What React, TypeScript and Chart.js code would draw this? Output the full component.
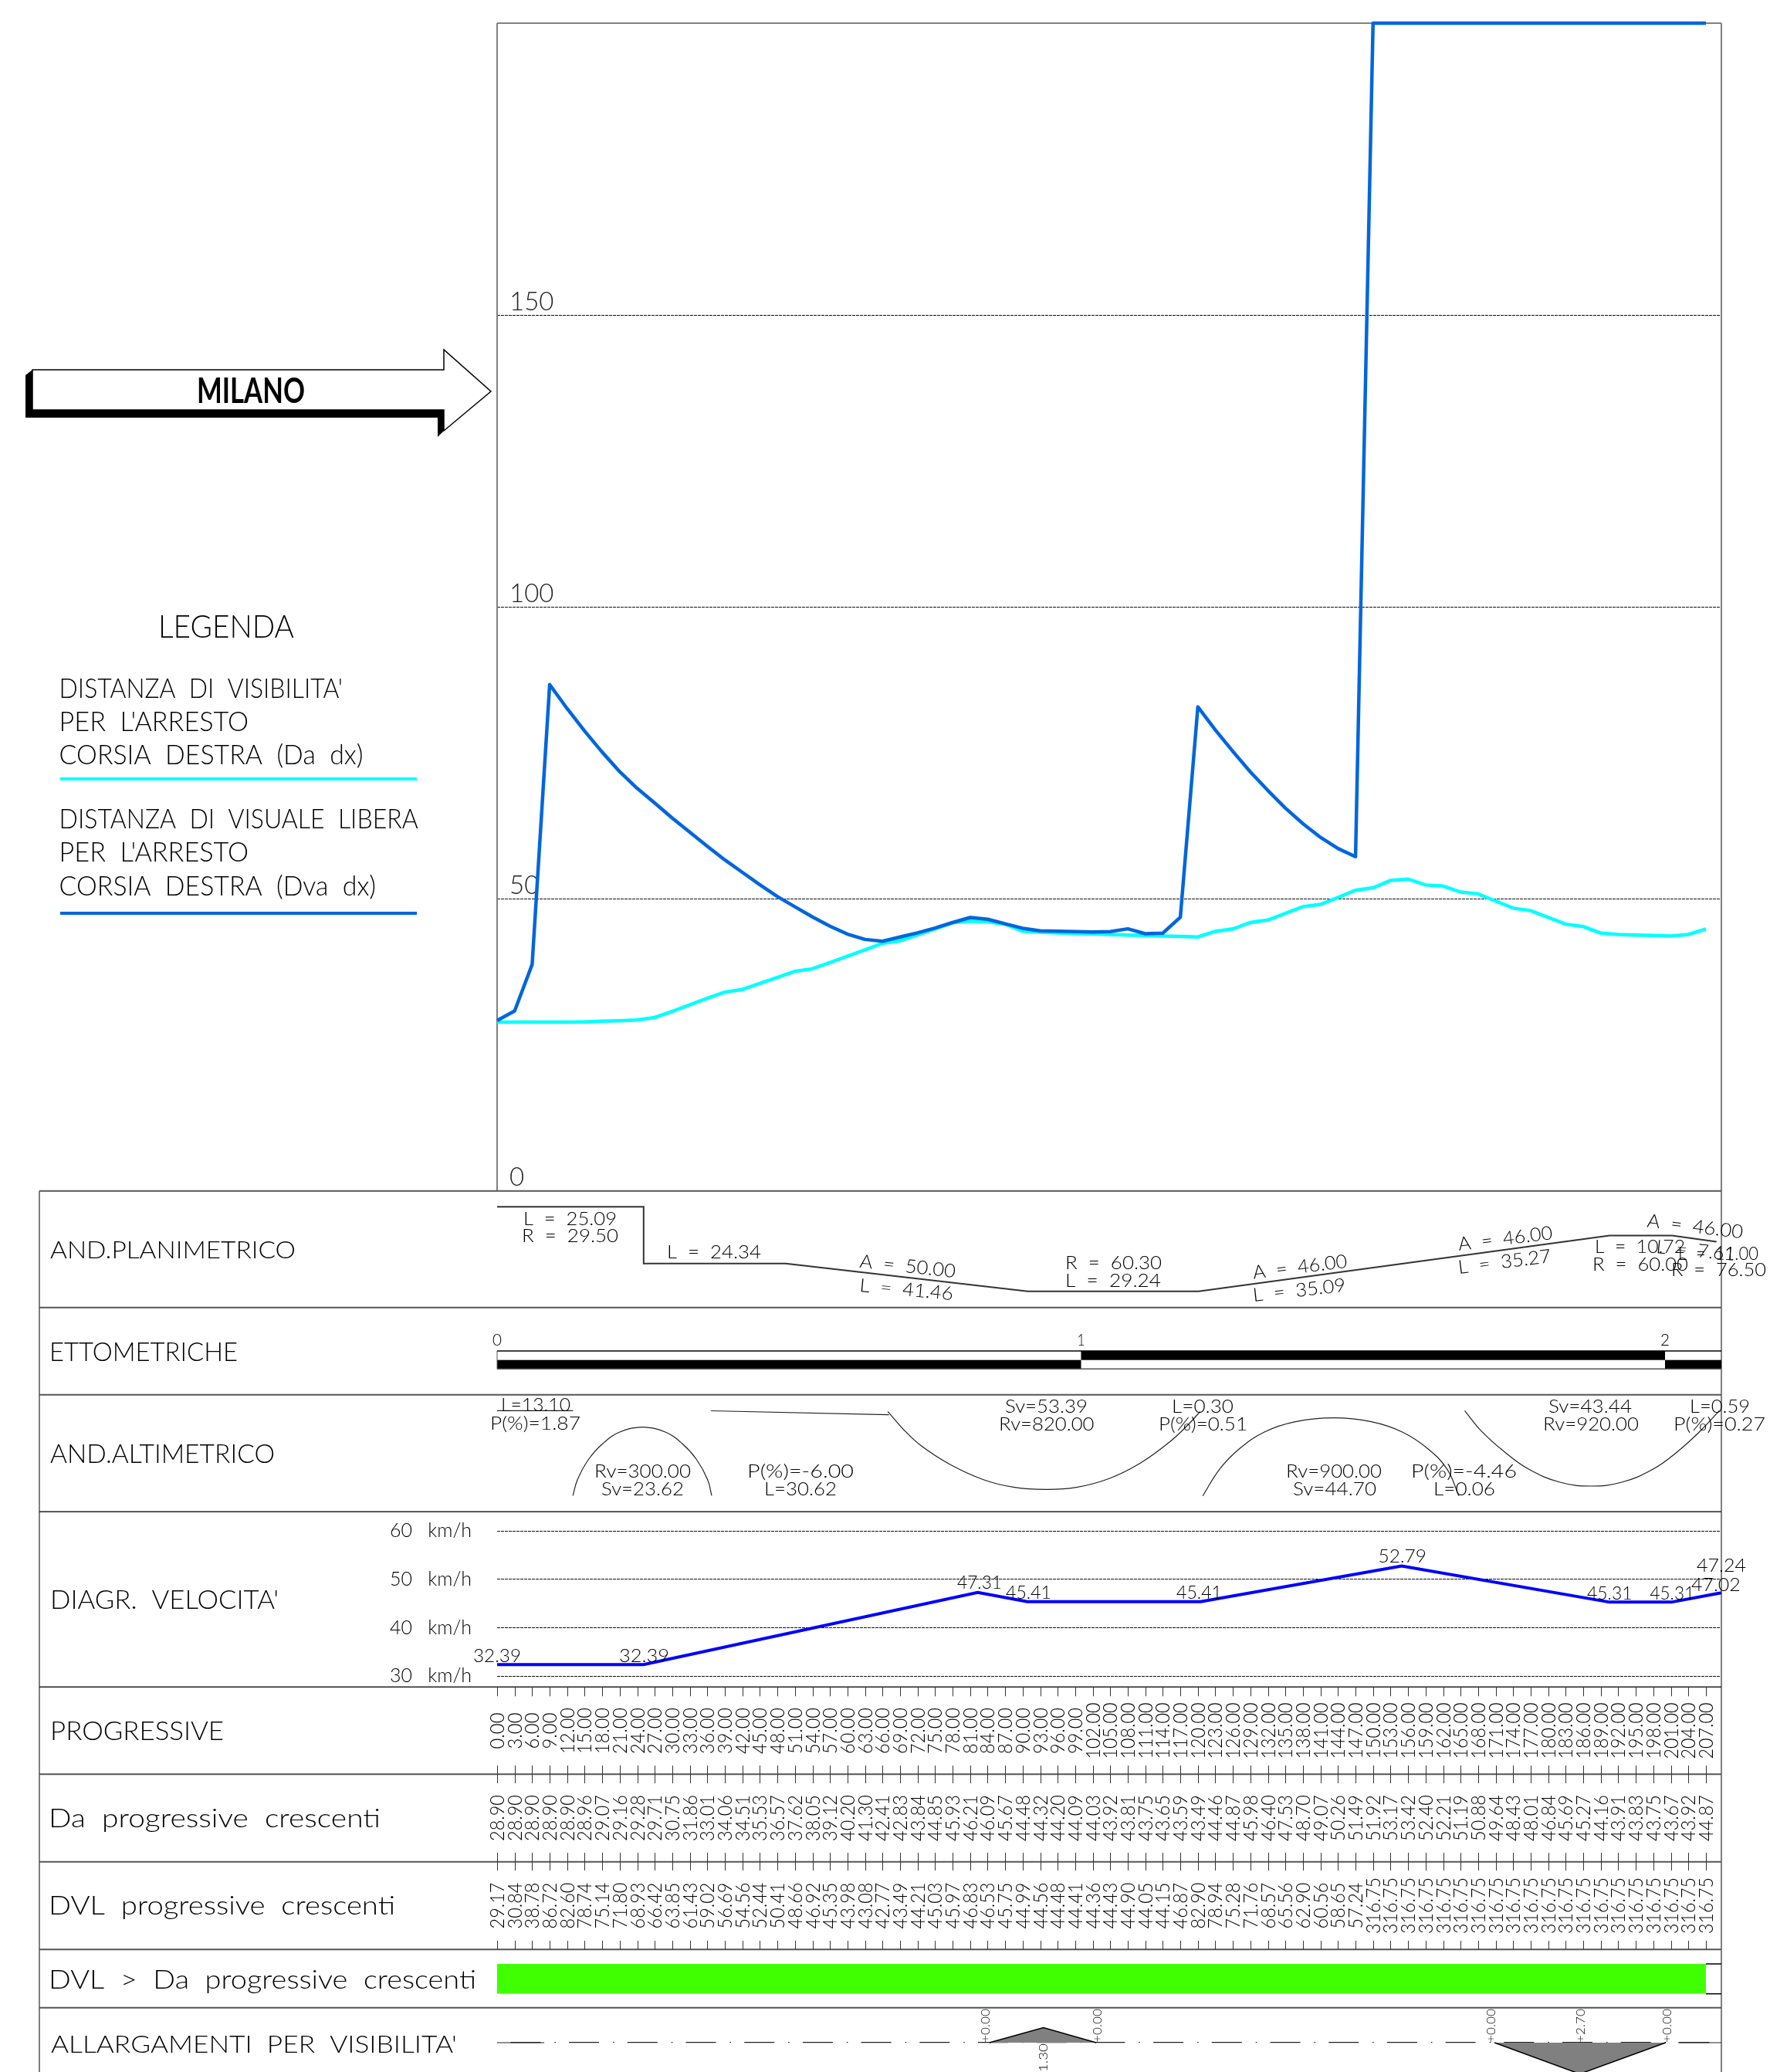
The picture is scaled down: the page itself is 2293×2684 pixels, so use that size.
import React, { useEffect, useRef } from "react";
import { Chart, registerables } from "chart.js";

Chart.register(...registerables);

/* ---------- data ---------- */
const progressive = [0,3,6,9,12,15,18,21,24,27,30,33,36,39,42,45,48,51,54,57,60,63,66,69,72,75,78,81,84,87,90,93,96,99,102,105,108,111,114,117,120,123,126,129,132,135,138,141,144,147,150,153,156,159,162,165,168,171,174,177,180,183,186,189,192,195,198,201,204,207];
const da = [28.90,28.90,28.90,28.90,28.90,28.96,29.07,29.16,29.28,29.71,30.75,31.86,33.01,34.06,34.51,35.53,36.57,37.62,38.05,39.12,40.20,41.30,42.41,42.83,43.84,44.85,45.93,46.21,46.09,45.67,44.48,44.32,44.20,44.09,44.03,43.92,43.81,43.75,43.65,43.59,43.49,44.46,44.87,45.98,46.40,47.53,48.70,49.07,50.26,51.49,51.92,53.17,53.42,52.40,52.21,51.19,50.88,49.64,48.43,48.01,46.84,45.69,45.27,44.16,43.91,43.83,43.75,43.67,43.92,44.87];
const dvl = [29.17,30.84,38.78,86.72,82.60,78.74,75.14,71.80,68.93,66.42,63.85,61.43,59.02,56.69,54.56,52.44,50.41,48.66,46.92,45.35,43.98,43.08,42.77,43.49,44.21,45.03,45.97,46.83,46.53,45.75,44.99,44.56,44.48,44.41,44.36,44.43,44.90,44.05,44.15,46.87,82.90,78.94,75.28,71.76,68.57,65.56,62.90,60.56,58.65,57.24,316.75,316.75,316.75,316.75,316.75,316.75,316.75,316.75,316.75,316.75,316.75,316.75,316.75,316.75,316.75,316.75,316.75,316.75,316.75,316.75];
const Y_LIMIT = 200;

const velStations = [0,25.09,82.3,90.8,120.5,154.9,190.5,201.1,209.65];
const velValues = [32.39,32.39,47.31,45.41,45.41,52.79,45.31,45.31,47.24];

const planStations = [0,25.09,25.09,49.43,90.89,120.13,190.49,201.21,208.82];
const planCurvature = [0.0339,0.0339,0,0,-0.01658,-0.01658,0.01667,0.01667,0.01307];

const altStations1 = [0,13];
const altElev1 = [131,131];
const altStations2 = [12.98,13.76,15.7,18.1,21.0,24.9,28.8,31.7,34.1,36.05,36.74];
const altElev2 = [21,41.6,68.3,88.3,103.3,109.6,103.3,88.3,68.3,41.6,21];
const altStations3 = [36.6,67.1];
const altElev3 = [130.8,125.7];
const altStations4 = [66.9,69.8,72.7,77.5,83.3,88.6,93.9,99.2,104.9,110.2,115.1,118.4,120.4];
const altElev4 = [130,105,85,61.6,41.6,31.6,29,31.6,43.3,63.3,90,113.3,130];
const altStations5 = [120.85,123.7,127.1,131.4,136.7,143.3,149.7,155.0,159.4,162.7,164.7];
const altElev5 = [20.6,55,81.6,103.3,116.6,121.6,116.6,103.3,81.6,55,20.6];
const altStations6 = [165.7,168.5,172.4,176.7,182,187.3,192.6,197.9,202.2,206.1,209.3];
const altElev6 = [131,105,78.3,55,38.3,33.3,38.3,55,78.3,105,131];

const wideStations1 = [84.3,93.55,102.6];
const wideValues1 = [0,-1.30,0];
const wideStations2 = [170.8,185.4,200.1];
const wideValues2 = [0,2.70,0];

const ettoStations = [0,100,200];
const ettoLabels = ["0","1","2"];

/* ---------- layout of the sheet (pixels) ---------- */
const W = 2293, H = 2684;
const PLOT_L = 644, PLOT_R = 2230, PLOT_T = 30;
const ROWS = [1542.7,1693.7,1806.7,1958.3,2185.3,2298.3,2411.7,2525.3,2600.7];
const FONT = "Lato";
const CYAN = "#00ffff", BLUE = "#0066dd", VEL = "#0000ff", GREEN = "#40ff00", GREY = "#808080";

type T = [string, number, number, number, number, number?];
// text, x0, x1, baseline, cap height, baseline at the far end (slanted text)
const TEXTS: T[] = [
  ["AND.PLANIMETRICO",65,383,1630,23],
  ["ETTOMETRICHE",64,308,1763,24],
  ["AND.ALTIMETRICO",65,356,1895,24],
  ["DIAGR.  VELOCITA'",65,361,2084,24],
  ["PROGRESSIVE",65,290,2254,24],
  ["Da  progressive  crescenti",63,493,2367,24],
  ["DVL  progressive  crescenti",63,512,2480,24],
  ["DVL  >  Da  progressive  crescenti",63,617,2576,24],
  ["ALLARGAMENTI  PER  VISIBILITA'",66,592,2659,23],
  ["L  =  25.09",678,799,1586.7,17.5],
  ["R  =  29.50",676,801,1609,17.5],
  ["L  =  24.34",864,986,1630,17.5],
  ["A  =  50.00",1113,1237,1641.7,17.5,1655],
  ["L  =  41.46",1113,1234,1673,17.5,1684],
  ["R  =  60.30",1380,1505,1644.3,17.5],
  ["L  =  29.24",1380,1504,1666.7,17.5],
  ["A  =  46.00",1624,1746,1656.7,17.5,1641.7],
  ["L  =  35.09",1624,1744,1686,17.5,1672.7],
  ["A  =  46.00",1890,2012,1620,17.5,1605],
  ["L  =  35.27",1890,2010,1650,17.5,1635],
  ["A  =  46.00",2133,2257,1589.3,17.5,1604.3],
  ["L  =  10.72",2066,2183,1623.3,17.5],
  ["R  =  60.00",2063,2187,1646,17.5],
  ["L  =  7.61",2145,2247,1623,17.5,1633],
  ["L  =  11.00",2174,2278,1631.7,17.5],
  ["R  =  76.50",2165,2288,1653,17.5],
  ["L=13.10",649,739,1828,16.5],
  ["P(%)=1.87",635,752,1852,16.5],
  ["Rv=300.00",770,895,1914,16.5],
  ["Sv=23.62",779,886,1936.7,16.5],
  ["P(%)=-6.00",968,1106,1914,16.5],
  ["L=30.62",990,1084,1936.7,16.5],
  ["Sv=53.39",1302,1409,1830,16.5],
  ["Rv=820.00",1294,1417.5,1852.7,16.5],
  ["L=0.30",1518,1598,1830,16.5],
  ["P(%)=0.51",1501,1616,1852.7,16.5],
  ["Rv=900.00",1666,1790,1914,16.5],
  ["Sv=44.70",1675,1783,1936.7,16.5],
  ["P(%)=-4.46",1828,1965,1914,16.5],
  ["L=0.06",1857,1937,1936.7,16.5],
  ["Sv=43.44",2006,2114,1830,16.5],
  ["Rv=920.00",1999,2123,1852.7,16.5],
  ["L=0.59",2189,2267,1830,16.5],
  ["P(%)=0.27",2168,2287,1852.7,16.5],
  ["32.39",613,675,2152.7,17],
  ["32.39",802,867,2152.7,17],
  ["47.31",1240,1298,2058,17],
  ["45.41",1303,1362,2070.7,17],
  ["45.41",1524,1583,2070.7,17],
  ["52.79",1785.5,1848,2024.3,17],
  ["45.31",2056,2114.5,2071.7,17],
  ["45.31",2137.5,2195,2071.7,17],
  ["47.24",2198,2262,2036,17],
  ["47.02",2191,2254.7,2061,17],
  ["LEGENDA",205,381,825.6,30],
  ["DISTANZA  DI  VISIBILITA'",76.6,444,903.7,25],
  ["PER  L'ARRESTO",76.6,322,947,25],
  ["CORSIA  DESTRA  (Da  dx)",76.6,470.5,990,25],
  ["DISTANZA  DI  VISUALE  LIBERA",76.6,541.7,1073,25],
  ["PER  L'ARRESTO",76.6,322,1116.4,25],
  ["CORSIA  DESTRA  (Dva  dx)",76.6,487,1160,25],
];

function text(ctx: CanvasRenderingContext2D, s: string, x0: number, x1: number, base: number, cap: number, base1?: number, weight = 300) {
  const b1 = base1 === undefined ? base : base1;
  const len = Math.hypot(x1 - x0, b1 - base);
  ctx.save();
  ctx.font = `${weight} ${cap / 0.72}px ${FONT}`;
  ctx.fillStyle = "#000";
  ctx.textAlign = "left";
  ctx.textBaseline = "alphabetic";
  const m = ctx.measureText(s).width;
  ctx.translate(x0, base);
  ctx.rotate(Math.atan2(b1 - base, x1 - x0));
  ctx.scale(len / m, 1);
  ctx.fillText(s, 0, 0);
  ctx.restore();
}

function upText(ctx: CanvasRenderingContext2D, s: string, x: number, yStart: number, len: number, cap: number) {
  ctx.save();
  ctx.font = `300 ${cap / 0.72}px ${FONT}`;
  ctx.fillStyle = "#000";
  ctx.textAlign = "left";
  ctx.textBaseline = "alphabetic";
  const m = ctx.measureText(s).width;
  ctx.translate(x + cap / 2, yStart);
  ctx.rotate(-Math.PI / 2);
  ctx.scale(len / m, 1);
  ctx.fillText(s, 0, 0);
  ctx.restore();
}

function line(ctx: CanvasRenderingContext2D, x0: number, y0: number, x1: number, y1: number, color: string, w: number) {
  ctx.strokeStyle = color;
  ctx.lineWidth = w;
  ctx.setLineDash([]);
  ctx.beginPath();
  ctx.moveTo(x0, y0);
  ctx.lineTo(x1, y1);
  ctx.stroke();
}

function poly(ctx: CanvasRenderingContext2D, pts: number[][]) {
  ctx.beginPath();
  pts.forEach((p, i) => (i ? ctx.lineTo(p[0], p[1]) : ctx.moveTo(p[0], p[1])));
  ctx.closePath();
}

const sheetPlugin = {
  id: "sheet",
  beforeDatasetsDraw(chart: any) {
    const ctx: CanvasRenderingContext2D = chart.ctx;
    const x = chart.scales.x;
    const zeroWide = chart.scales.yWide.getPixelForValue(0);
    ctx.save();
    // frames
    line(ctx, PLOT_L, PLOT_T, PLOT_R, PLOT_T, GREY, 2);
    line(ctx, PLOT_L, PLOT_T, PLOT_L, ROWS[0], GREY, 2);
    line(ctx, PLOT_R, PLOT_T, PLOT_R, H, GREY, 2);
    line(ctx, 51, ROWS[0], 51, H, GREY, 2);
    ROWS.forEach((y, i) => line(ctx, 51, y, PLOT_R, y, i === 3 || i === 4 ? "#222" : "#555", i === 3 || i === 4 ? 1.5 : 2));

    // long end pieces of the dash-dot centre line
    line(ctx, PLOT_L, zeroWide, 705, zeroWide, "#222", 1.2);
    line(ctx, 2174, zeroWide, PLOT_R, zeroWide, "#222", 1.2);

    // ettometriche band
    const yA = 1750, yB = 1761.7, yC = 1773.3;
    const bands = [...ettoStations.map((s) => x.getPixelForValue(s)), PLOT_R];
    bands.slice(0, -1).forEach((px, i) => {
      ctx.fillStyle = "#000";
      if (i % 2 === 0) ctx.fillRect(px, yB, bands[i + 1] - px, yC - yB);
      else ctx.fillRect(px, yA, bands[i + 1] - px, yB - yA);
    });
    line(ctx, PLOT_L, yA, PLOT_R, yA, "#000", 1.5);
    line(ctx, PLOT_L, yC, PLOT_R, yC, "#555", 1.5);
    line(ctx, PLOT_L, yA, PLOT_L, yC, "#555", 1);
    ettoStations.forEach((s, i) => {
      const px = x.getPixelForValue(s);
      text(ctx, ettoLabels[i], px - (i === 1 ? 5 : 6), px + (i === 1 ? 5 : 6), 1743, 15);
    });

    // station ticks
    progressive.forEach((s) => {
      const px = Math.round(x.getPixelForValue(s)) + 0.5;
      line(ctx, px, ROWS[4], px, ROWS[4] + 12, "#333", 1);
      line(ctx, px, 2287, px, 2310, "#333", 1);
      line(ctx, px, 2400, px, 2423, "#333", 1);
      line(ctx, px, 2514, px, ROWS[7], "#333", 1);
    });

    // box closing the DVL > Da band
    const endBar = x.getPixelForValue(207);
    line(ctx, endBar, 2544, PLOT_R, 2544, "#000", 1.5);
    line(ctx, endBar, 2582.7, PLOT_R, 2582.7, "#000", 1.5);

    // MILANO arrow
    ctx.fillStyle = "#000";
    poly(ctx, [[33,486],[42,479],[42,531],[575,531],[575,558],[567,566],[567,541],[33,541]]);
    ctx.fill();
    ctx.fillStyle = "#fff";
    ctx.strokeStyle = "#000";
    ctx.lineWidth = 1.5;
    poly(ctx, [[42,479],[575,479],[575,453],[636,507],[575,558],[575,531],[42,531]]);
    ctx.fill();
    ctx.stroke();

    // legend swatches
    line(ctx, 78, 1009, 540, 1009, CYAN, 4);
    line(ctx, 78, 1183, 540, 1183, BLUE, 4);
    ctx.restore();
  },
  afterDatasetsDraw(chart: any) {
    const ctx: CanvasRenderingContext2D = chart.ctx;
    const x = chart.scales.x;
    const len = (s: string) => 13 * s.length - 5;
    progressive.forEach((s, i) => {
      const px = x.getPixelForValue(s);
      const a = s.toFixed(2), b = da[i].toFixed(2), c = dvl[i].toFixed(2);
      upText(ctx, a, px, 2242 + len(a) / 2, len(a), 18);
      upText(ctx, b, px, 2355 + len(b) / 2, len(b), 18);
      upText(ctx, c, px, 2468.5 + len(c) / 2, len(c), 18);
    });
    TEXTS.forEach(([s, a, b, c, d, e]) => text(ctx, s, a, b, c, d, e));
    text(ctx, "MILANO", 255, 395, 522, 33, undefined, 700);
    // widening labels
    wideStations1.forEach((s, i) => {
      const v = wideValues1[i];
      const px = i === 1 ? x.getPixelForValue(s) : x.getPixelForValue(s) + (i === 0 ? -5 : 1);
      upText(ctx, (v < 0 ? "-" : "+") + Math.abs(v).toFixed(2), px, v < 0 ? 2691 : 2646, 44, 11);
    });
    wideStations2.forEach((s, i) => {
      const px = x.getPixelForValue(s) + (i === 0 ? -5 : i === 2 ? 2 : 1);
      upText(ctx, "+" + wideValues2[i].toFixed(2), px, 2646, 44, 11);
    });
  },
};

const xy = (xs: number[], ys: number[]) => xs.map((v, i) => ({ x: v, y: ys[i] }));
const thin = (xs: number[], ys: number[], tension = 0.4) => ({
  data: xy(xs, ys), yAxisID: "yAlt", borderColor: "#222", borderWidth: 1.2, pointRadius: 0, tension,
});
const hiddenAxis = (weight: number, stackWeight: number) => ({
  type: "linear", axis: "y", position: "left", display: false, stack: "sheet", stackWeight, weight, min: 0, max: 1,
});
const flatFit = (s: any) => {
  s.width = 0;
  s.paddingTop = 0; s.paddingBottom = 0; s.paddingLeft = 0; s.paddingRight = 0;
};

export default function App() {
  const ref = useRef<HTMLCanvasElement>(null);
  useEffect(() => {
    const chart = new Chart(ref.current as HTMLCanvasElement, {
      type: "line",
      data: {
        datasets: [
          { label: "Dva dx", data: xy(progressive, dvl.map((v) => Math.min(v, Y_LIMIT))), yAxisID: "y", borderColor: BLUE, borderWidth: 4.5, pointRadius: 0, clip: false, borderJoinStyle: "round" },
          { label: "Da dx", data: xy(progressive, da), yAxisID: "y", borderColor: CYAN, borderWidth: 4.5, pointRadius: 0, clip: false },
          { label: "Velocita", data: xy(velStations, velValues), yAxisID: "yV", borderColor: VEL, borderWidth: 4, pointRadius: 0, clip: false },
          { label: "Planimetrico", data: xy(planStations, planCurvature), yAxisID: "yPlan", borderColor: "#333", borderWidth: 2, pointRadius: 0 },
          thin(altStations1, altElev1, 0),
          thin(altStations2, altElev2),
          thin(altStations3, altElev3, 0),
          thin(altStations4, altElev4),
          thin(altStations5, altElev5),
          thin(altStations6, altElev6),
          { label: "DVL > Da", data: xy(progressive, dvl.map((v, i) => (v > da[i] ? 1 : 0))), yAxisID: "yDvl", borderWidth: 0, pointRadius: 0, backgroundColor: GREEN, fill: { value: 0 } },
          { label: "Allargamento 1", data: xy(wideStations1, wideValues1), yAxisID: "yWide", borderColor: "#000", borderWidth: 1.5, pointRadius: 0, backgroundColor: GREY, fill: { value: 0 }, clip: false },
          { label: "Allargamento 2", data: xy(wideStations2, wideValues2), yAxisID: "yWide", borderColor: "#000", borderWidth: 1.5, pointRadius: 0, backgroundColor: GREY, fill: { value: 0 }, clip: false },
        ],
      },
      options: {
        animation: false,
        responsive: false,
        devicePixelRatio: 1,
        events: [],
        layout: { autoPadding: false, padding: { left: PLOT_L, right: W - PLOT_R, top: PLOT_T, bottom: 0 } },
        plugins: { legend: { display: false }, tooltip: { enabled: false }, title: { display: false } },
        scales: {
          x: { type: "linear", axis: "x", position: "bottom", display: false, min: 0, max: (PLOT_R - PLOT_L) / 7.565 },
          y: {
            type: "linear", axis: "y", position: "left", stack: "sheet", stackWeight: ROWS[0] - PLOT_T, weight: 20, min: 0, max: Y_LIMIT,
            afterFit: flatFit,
            border: { display: false, dash: [4, 1] },
            grid: { drawTicks: false, color: (c: any) => (c.tick && (c.tick.value === 0 || c.tick.value === Y_LIMIT) ? "rgba(0,0,0,0)" : "#111"), lineWidth: 1 },
            ticks: {
              stepSize: 50, autoSkip: false, mirror: true, padding: 16, labelOffset: -17, color: "#222",
              font: { family: FONT, size: 33, weight: "300" },
              callback: (v: any) => (v === Y_LIMIT ? "" : String(v)),
            },
          },
          yPlan: { ...hiddenAxis(19, ROWS[1] - ROWS[0]), min: -0.02625, max: 0.04338 },
          gapA: hiddenAxis(18, ROWS[2] - ROWS[1]),
          yAlt: { ...hiddenAxis(17, ROWS[3] - ROWS[2]), min: 0, max: ROWS[3] - ROWS[2] },
          gapB: hiddenAxis(16, 1983.3 - ROWS[3]),
          yV: {
            type: "linear", axis: "y", position: "left", stack: "sheet", stackWeight: 2171.3 - 1983.3, weight: 15, min: 30, max: 60,
            afterFit: flatFit,
            border: { display: false, dash: [4, 1] },
            grid: { drawTicks: false, color: "#111", lineWidth: 1 },
            ticks: {
              stepSize: 10, autoSkip: false, mirror: true, padding: -139, color: "#000",
              font: { family: FONT, size: 25, weight: "300" },
              callback: (v: any) => `${v}   km/h`,
            },
          },
          gapC: hiddenAxis(14, 2544 - 2171.3),
          yDvl: hiddenAxis(13, 2582.7 - 2544),
          gapD: hiddenAxis(12, ROWS[8] - 2582.7),
          yWide: {
            type: "linear", axis: "y", position: "left", stack: "sheet", stackWeight: H - ROWS[8], weight: 11, min: -3.02, max: 2.533, reverse: true,
            afterFit: flatFit,
            afterBuildTicks: (s: any) => { s.ticks = [{ value: 0 }]; },
            border: { display: false, dash: [39, 18, 1.5, 17.2], dashOffset: 58.3 },
            grid: { drawTicks: false, color: "#222", lineWidth: 1.2 },
            ticks: { display: false },
          },
        },
      } as any,
      plugins: [sheetPlugin],
    } as any);
    return () => chart.destroy();
  }, []);
  return (
    <div style={{ position: "absolute", left: 0, top: 0, width: W, height: H, background: "#fff" }}>
      <canvas ref={ref} width={W} height={H} style={{ display: "block", width: W, height: H }} />
    </div>
  );
}
